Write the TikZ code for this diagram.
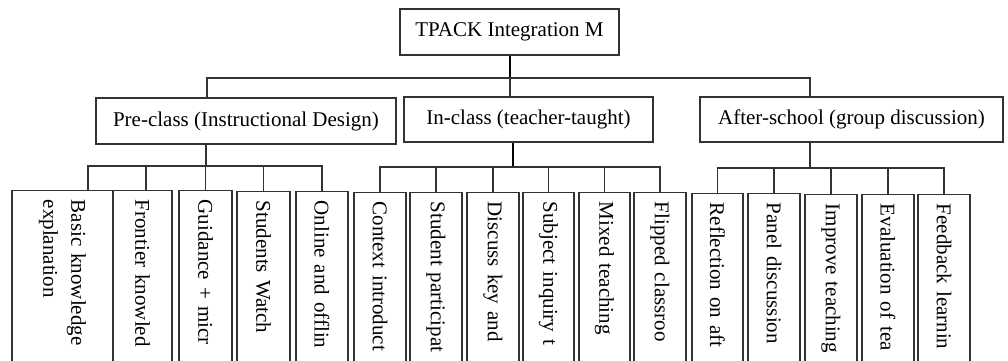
\documentclass[tikz,border=0pt]{standalone}
\usepackage{fontspec}
\setmainfont{Liberation Serif}
\tikzset{
    box/.style={draw=black!80, line width=1.4pt, inner sep=0pt, font=\fontsize{21}{28}\selectfont},
    leaf/.style={box, rotate=-90, anchor=west, inner xsep=9pt, text width=167pt, align=left},
    link/.style={draw=black!80, line width=1.4pt},
    trunk/.style={draw=black, line width=2.6pt}
}
\begin{document}
\begin{tikzpicture}[x=1pt, y=-1pt]
    \useasboundingbox (0,0) rectangle (1008,360);
    \clip (0,0) rectangle (1008,360);
    %draw boxes
    \node [box, minimum width=219, minimum height=46] (top) at (509.5,32) {TPACK Integration M};
    \node [box, minimum width=300, minimum height=46] (pre) at (246,121) {Pre-class (Instructional Design)};
    \node [box, minimum width=249, minimum height=45] (in) at (528.5,119.5) {In-class (teacher-taught)};
    \node [box, minimum width=303, minimum height=45] (after) at (851.5,119.5) {After-school (group discussion)};
    %pre-class leaves
    \node [leaf, minimum height=101] (b1) at (62.5,190) {Basic knowledge\\explanation};
    \node [leaf, minimum height=59] (b2) at (142.5,190) {Frontier knowled};
    \node [leaf, minimum height=53] (b3) at (205.5,190) {Guidance + micr};
    \node [leaf, minimum height=53] (b4) at (263.5,191) {Students Watch};
    \node [leaf, minimum height=52] (b5) at (322,191) {Online and offlin};
    %in-class leaves
    \node [leaf, minimum height=52] (c1) at (380,192) {Context introduct};
    \node [leaf, minimum height=52] (c2) at (436,192) {Student participat};
    \node [leaf, minimum height=52] (c3) at (493,192) {Discuss key and};
    \node [leaf, minimum height=51] (c4) at (548.5,192) {Subject inquiry t};
    \node [leaf, minimum height=51] (c5) at (604.5,192) {Mixed teaching};
    \node [leaf, minimum height=52] (c6) at (660,192) {Flipped classroo};
    %after-school leaves
    \node [leaf, minimum height=51] (a1) at (717.5,193) {Reflection on aft};
    \node [leaf, minimum height=52] (a2) at (774,193) {Panel discussion};
    \node [leaf, minimum height=52] (a3) at (831,194) {Improve teaching};
    \node [leaf, minimum height=52] (a4) at (888,194) {Evaluation of tea};
    \node [leaf, minimum height=52] (a5) at (944,194) {Feedback learnin};
    %draw lines
    \coordinate (t0) at (510,78);
    \coordinate (t1) at (207,78);
    \coordinate (t2) at (810,78);
    \draw [trunk] (top.south -| t0) -- (t0);
    \draw [link] (t1 |- pre.north) -- (t1) -- (t2) -- (t2 |- after.north);
    \draw [link] (t0) -- (t0 |- in.north);
    % pre-class
    \coordinate (p0) at (206,166);
    \coordinate (p1) at (88,166);
    \coordinate (p2) at (322,166);
    \draw [link] (p0 |- pre.south) -- (p0);
    \draw [link] (p1 |- b1.west) -- (p1) -- (p2) -- (b5.west);
    \draw [link] (b2.west -| 146,0) -- (146,166);
    \draw [link] (b3.west) -- (b3.west |- p0);
    \draw [link] (b4.west) -- (b4.west |- p0);
    % in-class
    \coordinate (i0) at (513,167);
    \draw [trunk] (i0 |- in.south) -- (i0);
    \draw [link] (c1.west) -- (c1.west |- i0) -- (c6.west |- i0) -- (c6.west);
    \foreach \n in {c2,c3,c4,c5}
        \draw [link] (\n.west) -- (\n.west |- i0);
    % after-school
    \coordinate (s0) at (810,168);
    \draw [link] (s0 |- after.south) -- (s0);
    \draw [link] (a1.west) -- (a1.west |- s0) -- (a5.west |- s0) -- (a5.west);
    \foreach \n in {a2,a3,a4}
        \draw [link] (\n.west) -- (\n.west |- s0);
\end{tikzpicture}
\end{document}
